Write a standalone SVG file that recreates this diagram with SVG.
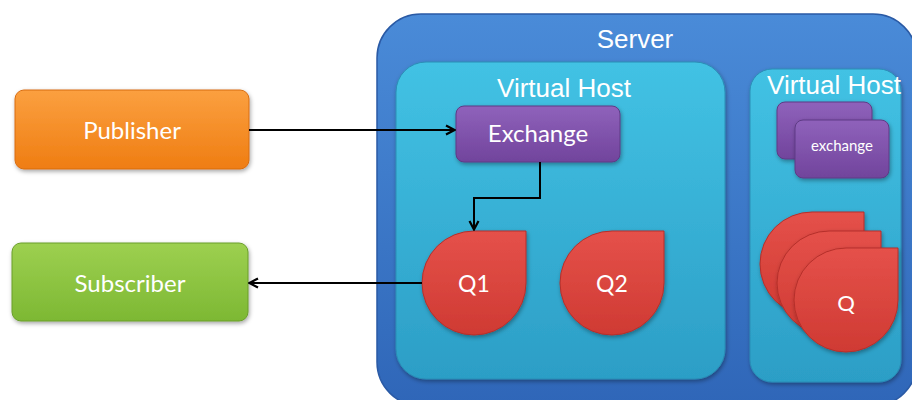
<svg xmlns="http://www.w3.org/2000/svg" xmlns:xlink="http://www.w3.org/1999/xlink" width="912" height="400" viewBox="0 0 912 400">
  <defs>
    <linearGradient id="gServer" x1="0" y1="0" x2="0" y2="1">
      <stop offset="0" stop-color="#4a8bd8"/>
      <stop offset="1" stop-color="#2f66b8"/>
    </linearGradient>
    <linearGradient id="gVH" x1="0" y1="0" x2="0" y2="1">
      <stop offset="0" stop-color="#42c2e4"/>
      <stop offset="1" stop-color="#2c9ec6"/>
    </linearGradient>
    <linearGradient id="gPub" x1="0" y1="0" x2="0" y2="1">
      <stop offset="0" stop-color="#fba040"/>
      <stop offset="1" stop-color="#ef7d12"/>
    </linearGradient>
    <linearGradient id="gSub" x1="0" y1="0" x2="0" y2="1">
      <stop offset="0" stop-color="#9dd050"/>
      <stop offset="1" stop-color="#7db833"/>
    </linearGradient>
    <linearGradient id="gEx" x1="0" y1="0" x2="0" y2="1">
      <stop offset="0" stop-color="#8f62bb"/>
      <stop offset="1" stop-color="#71449c"/>
    </linearGradient>
    <linearGradient id="gQ" x1="0" y1="0" x2="0" y2="1">
      <stop offset="0" stop-color="#e5514a"/>
      <stop offset="1" stop-color="#cf3a33"/>
    </linearGradient>
    <filter id="sh" x="-20%" y="-20%" width="140%" height="140%">
      <feDropShadow dx="1" dy="2" stdDeviation="2" flood-color="#000" flood-opacity="0.35"/>
    </filter>
    <path id="drop" d="M52,-52 L52,0 A52,52 0 0 1 0,52 A52,52 0 0 1 -52,0 A52,52 0 0 1 0,-52 Z"/>
    <marker id="arr" viewBox="0 0 12 12" refX="11" refY="6" markerWidth="12" markerHeight="12" markerUnits="userSpaceOnUse" orient="auto">
      <path d="M2,1.5 L10.5,6 L2,10.5" fill="none" stroke="#000" stroke-width="2.2"/>
    </marker>
    <style>
      .lbl { font-family: Lato, "Open Sans", "Liberation Sans", sans-serif; fill: #ffffff; text-anchor: middle; }
      .hdr { font-family: "Liberation Sans", Arial, sans-serif; fill: #ffffff; text-anchor: middle; font-size: 26px; }
      .conn { fill: none; stroke: #000; stroke-width: 2; }
      .q { fill: url(#gQ); stroke: #b52f2a; stroke-width: 1; filter: url(#sh); }
      .ex { fill: url(#gEx); stroke: #5e3a85; stroke-width: 1; filter: url(#sh); }
    </style>
  </defs>

  <g id="server">
    <rect x="377" y="14" width="540" height="392" rx="44" fill="url(#gServer)" stroke="#2a5aa5" stroke-width="1.5"/>
    <text class="hdr" x="635" y="48">Server</text>
  </g>

  <g id="vhost1">
    <rect x="396" y="62" width="329" height="317" rx="30" fill="url(#gVH)" stroke="#2a8db5" stroke-width="1" filter="url(#sh)"/>
    <text class="hdr" x="564" y="97">Virtual Host</text>
  </g>

  <g id="vhost2">
    <rect x="750" y="69" width="151" height="313" rx="22" fill="url(#gVH)" stroke="#2a8db5" stroke-width="1" filter="url(#sh)"/>
    <text class="hdr" x="834" y="94">Virtual Host</text>
  </g>

  <g id="publisher">
    <rect x="15" y="90" width="234" height="79" rx="9" fill="url(#gPub)" stroke="#d86c10" stroke-width="1" filter="url(#sh)"/>
    <text class="lbl" x="132" y="139" font-size="24">Publisher</text>
  </g>

  <g id="subscriber">
    <rect x="12" y="243" width="236" height="78" rx="9" fill="url(#gSub)" stroke="#6a9e2a" stroke-width="1" filter="url(#sh)"/>
    <text class="lbl" x="130" y="292" font-size="24">Subscriber</text>
  </g>

  <g id="exchange">
    <rect class="ex" x="456" y="106" width="164" height="56" rx="8"/>
    <text class="lbl" x="538" y="142" font-size="24">Exchange</text>
  </g>

  <g id="exchange2">
    <rect class="ex" x="777" y="102" width="95" height="57" rx="8"/>
    <rect class="ex" x="795" y="120" width="94" height="58" rx="8"/>
    <text class="lbl" x="842" y="151" font-size="15">exchange</text>
  </g>

  <g id="q1">
    <use xlink:href="#drop" class="q" transform="translate(474,283)"/>
    <text class="lbl" x="474" y="292" font-size="23">Q1</text>
  </g>

  <g id="q2">
    <use xlink:href="#drop" class="q" transform="translate(612,283)"/>
    <text class="lbl" x="612" y="292" font-size="23">Q2</text>
  </g>

  <g id="qstack">
    <use xlink:href="#drop" class="q" transform="translate(812,264)"/>
    <use xlink:href="#drop" class="q" transform="translate(829,283)"/>
    <use xlink:href="#drop" class="q" transform="translate(846,300)"/>
    <text class="lbl" x="846" y="311" font-size="22">Q</text>
  </g>

  <g id="connectors">
    <path class="conn" d="M249,130 L455,130" marker-end="url(#arr)"/>
    <path class="conn" d="M540,162 L540,198 L474,198 L474,230" marker-end="url(#arr)"/>
    <path class="conn" d="M422,283 L249,283" marker-end="url(#arr)"/>
  </g>
</svg>
